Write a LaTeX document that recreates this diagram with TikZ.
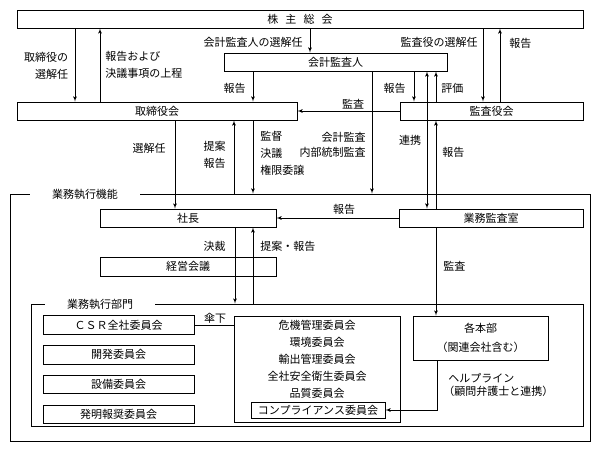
\documentclass[tikz,border=0pt]{standalone}
\usepackage{fontspec}
\setmainfont{Noto Sans CJK JP}
\usepackage{tikz}
\usetikzlibrary{chains,fit,shapes}
\usetikzlibrary{arrows,calc,positioning}

\begin{document}
\begin{tikzpicture}[x=1pt,y=-1pt]
	\tikzstyle{every path}=[line width=0.8pt]
	\tikzstyle{every node}=[font=\fontsize{11}{17}\selectfont]

	\tikzstyle{organ}=[draw,inner sep=0pt,minimum height=18pt]
	\tikzstyle{iin}=[draw,inner sep=0pt,minimum width=151pt,minimum height=18.5pt]
	\tikzstyle{waku}=[draw,inner sep=0pt]
	\tikzstyle{midashi}=[fill=white,inner sep=0pt,minimum width=110pt,minimum height=8pt]
	\tikzstyle{moji}=[inner sep=1pt]
	\tikzstyle{l} = [draw, -latex']
	\tikzstyle{lr} = [draw, latex'-latex']

	\useasboundingbox (0,0) rectangle (600,452);

	%% Frames
	\node[waku,minimum width=580pt,minimum height=247pt] (kino) at (300,317.5) {};
	\node[midashi] (kinolabel) at (85,194) {業務執行機能};
	\node[waku,minimum width=552pt,minimum height=122pt] (bumon) at (307,365) {};
	\node[midashi] (bumonlabel) at (100,304) {業務執行部門};

	%% Top organs
	\node[organ,minimum width=566pt] (soukai) at (300,19) {株\hspace{0.65em}主\hspace{0.65em}総\hspace{0.65em}会};
	\node[organ,minimum width=223pt] (kaikei) at (335.5,62) {会計監査人};
	\node[organ,minimum width=280pt] (torishimari) at (157,111) {取締役会};
	\node[organ,minimum width=183pt] (kansa) at (491.5,111) {監査役会};

	%% Execution
	\node[organ,minimum width=176pt] (shacho) at (188,218) {社長};
	\node[organ,minimum width=184pt] (kansashitsu) at (491,218) {業務監査室};
	\node[organ,minimum width=176pt,minimum height=19pt] (keiei) at (188,266.5) {経営会議};

	%% Committees
	\begin{scope}[start chain=1 going below,node distance=10.5pt]
		\node[on chain=1,iin] (csr) at (118.5,325) {ＣＳＲ全社委員会};
		\node[on chain=1,iin] (kaihatsu) {開発委員会};
		\node[on chain=1,iin] (setsubi) {設備委員会};
		\node[on chain=1,iin] (hatsumei) {発明報奨委員会};
	\end{scope}
	\node[waku,minimum width=166pt,minimum height=106pt] (iinkai) at (317,369) {};
	\node[align=center] (iinkaimei) at (317,359) {危機管理委員会\\環境委員会\\輸出管理委員会\\全社安全衛生委員会\\品質委員会};
	\node[organ,minimum width=134pt,minimum height=16pt] (compliance) at (318,410) {コンプライアンス委員会};
	\node[waku,minimum width=135pt,minimum height=44pt,align=center] (honbu) at (480.5,338) {各本部\\[2pt]（関連会社含む）};

	%% Connectors
	\path[l] (soukai.south -| 75,0) -- (torishimari.north -| 75,0);
	\path[l] (torishimari.north -| 100,0) -- (soukai.south -| 100,0);
	\path[l] (soukai.south -| 310,0) -- (kaikei.north -| 310,0);
	\path[l] (kaikei.south -| 253,0) -- (torishimari.north -| 253,0);
	\path[l] (soukai.south -| 483,0) -- (kansa.north -| 483,0);
	\path[l] (kansa.north -| 500,0) -- (soukai.south -| 500,0);
	\path[l] (kaikei.south -| 414,0) -- (kansa.north -| 414,0);
	\path[l] (kansa.north -| 436,0) -- (kaikei.south -| 436,0);
	\path[lr] (kaikei.south -| 427,0) -- (kansashitsu.north -| 427,0);
	\path[l] (kansashitsu.north -| 436,0) -- (kansa.south -| 436,0);
	\path[l] (kansa.west) -- (torishimari.east);
	\path[l] (kaikei.south -| 372,0) -- (kino.north -| 372,0);
	\path[l] (torishimari.south -| 253,0) -- (kino.north -| 253,0);
	\path[l] (kino.north -| 234,0) -- (torishimari.south -| 234,0);
	\path[l] (torishimari.south -| 175,0) -- (shacho.north -| 175,0);
	\path[l] (kansashitsu.west) -- (shacho.east);
	\path[l] (shacho.south -| 235,0) -- (bumon.north -| 235,0);
	\path[l] (bumon.north -| 253,0) -- (shacho.south -| 253,0);
	\path[l] (kansashitsu.south -| 436,0) -- (honbu.north -| 436,0);
	\path[draw] (csr.east) -- (csr.east -| iinkai.west);
	\path[l] (honbu.south -| 437,0) |- (compliance.east);

	%% Labels
	\node[moji,anchor=east,align=right] (t1) at (69.5,65.5) {取締役の\\選解任};
	\node[moji,anchor=west,align=left] (t2) at (104,65) {報告および\\決議事項の上程};
	\node[moji,anchor=east] (t3) at (304,42) {会計監査人の選解任};
	\node[moji,anchor=east] (t4) at (247,88) {報告};
	\node[moji,anchor=east] (t5) at (479,42) {監査役の選解任};
	\node[moji,anchor=west] (t6) at (508,43) {報告};
	\node[moji,anchor=east] (t7) at (407,88) {報告};
	\node[moji,anchor=west] (t8) at (440,88) {評価};
	\node[moji] (t9) at (353,104) {監査};
	\node[moji,anchor=east,align=right] (t10) at (367,145) {会計監査\\[-2pt]内部統制監査};
	\node[moji] (t11) at (410,140) {連携};
	\node[moji,anchor=west] (t12) at (441,152) {報告};
	\node[moji,anchor=west,align=left] (t13) at (259,153.5) {監督\\決議\\権限委譲};
	\node[moji,anchor=east,align=center] (t14) at (227,155) {提案\\報告};
	\node[moji,anchor=east] (t15) at (167,148) {選解任};
	\node[moji] (t16) at (344,209) {報告};
	\node[moji,anchor=east] (t17) at (227,246) {決裁};
	\node[moji,anchor=west] (t18) at (259,246) {提案・報告};
	\node[moji,anchor=west] (t19) at (442,266) {監査};
	\node[moji] (t20) at (215,318) {傘下};
	\node[moji,anchor=west,align=left] (t21) at (447,385) {ヘルプライン\\[-4pt]\hspace*{-0.45em}（顧問弁護士と連携）};
\end{tikzpicture}
\end{document}
